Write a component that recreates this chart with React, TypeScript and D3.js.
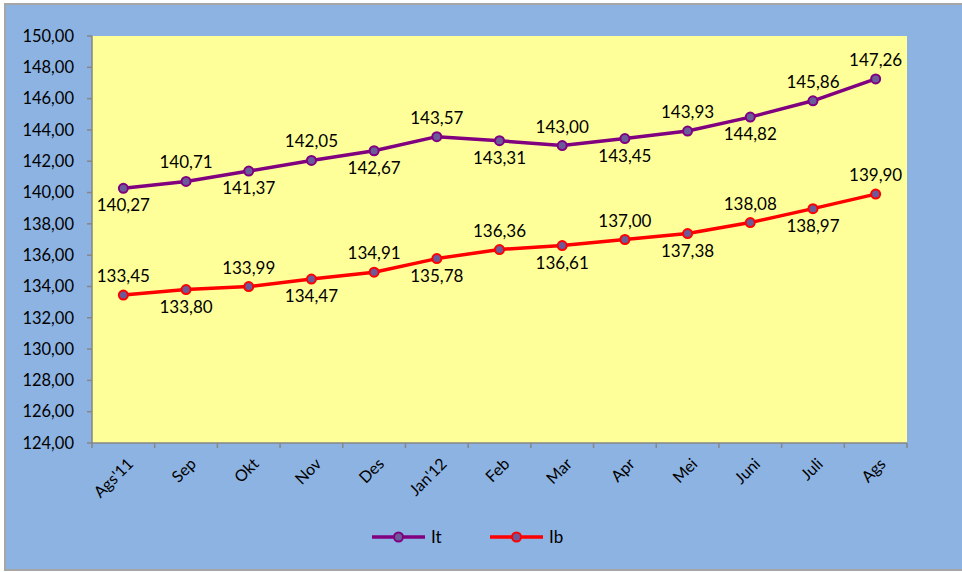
import React from "react";
import * as d3 from "d3";

const categories = ["Ags'11", "Sep", "Okt", "Nov", "Des", "Jan'12", "Feb", "Mar", "Apr", "Mei", "Juni", "Juli", "Ags"];
const itValues = [140.27, 140.71, 141.37, 142.05, 142.67, 143.57, 143.31, 143.0, 143.45, 143.93, 144.82, 145.86, 147.26];
const ibValues = [133.45, 133.8, 133.99, 134.47, 134.91, 135.78, 136.36, 136.61, 137.0, 137.38, 138.08, 138.97, 139.9];
const itLabelPos = ["b", "a", "b", "a", "b", "a", "b", "a", "b", "a", "b", "a", "a"];
const ibLabelPos = ["a", "b", "a", "b", "a", "b", "a", "b", "a", "b", "a", "b", "a"];
const yTicks = [124, 126, 128, 130, 132, 134, 136, 138, 140, 142, 144, 146, 148, 150];

const W = 962, H = 572;
const plot = { left: 92, top: 36, right: 907, bottom: 443 };
const FONT = "Lato, 'Open Sans', sans-serif";
const fmt = (v: number) => v.toFixed(2).replace(".", ",");

export default function App() {
  const x = d3.scaleBand<string>().domain(categories).range([plot.left, plot.right]);
  const y = d3.scaleLinear().domain([124, 150]).range([plot.bottom, plot.top]);
  const cx = (c: string) => (x(c) as number) + x.bandwidth() / 2;
  const line = d3.line<number>().x((_, i) => cx(categories[i])).y((v) => y(v));

  const series = [
    { name: "It", values: itValues, pos: itLabelPos, color: "#800080", fill: "#6A5A9A" },
    { name: "Ib", values: ibValues, pos: ibLabelPos, color: "#FF0000", fill: "#6A5A9A" },
  ];

  const boundaries = categories.map((c) => x(c) as number).concat([plot.right]);

  return (
    <svg width={W} height={H} style={{ position: "absolute", left: 0, top: 0 }}>
      <rect x={0} y={0} width={W} height={H} fill="#ffffff" />
      <rect x={5} y={4} width={W + 10} height={H - 6} fill="#8DB3E2" stroke="#A6A6A6" strokeWidth={2} />
      <rect x={plot.left} y={plot.top} width={plot.right - plot.left} height={plot.bottom - plot.top} fill="#FFFF99" />
      {/* y axis */}
      <line x1={plot.left} x2={plot.left} y1={plot.top} y2={plot.bottom} stroke="#868686" strokeWidth={1.5} />
      {yTicks.map((t) => (
        <g key={t}>
          <line x1={plot.left - 5} x2={plot.left} y1={y(t)} y2={y(t)} stroke="#868686" strokeWidth={1.5} />
          <text x={plot.left - 18} y={y(t)} dy="0.35em" textAnchor="end" fontFamily={FONT} fontSize={16.5} fill="#000">
            {fmt(t)}
          </text>
        </g>
      ))}
      {/* x axis */}
      <line x1={plot.left} x2={plot.right} y1={plot.bottom} y2={plot.bottom} stroke="#868686" strokeWidth={1.5} />
      {boundaries.map((b, i) => (
        <line key={i} x1={b} x2={b} y1={plot.bottom} y2={plot.bottom + 5} stroke="#868686" strokeWidth={1.5} />
      ))}
      {categories.map((c) => (
        <text
          key={c}
          transform={`translate(${cx(c) + 7},${plot.bottom + 18}) rotate(-45)`}
          textAnchor="end"
          dy="0.35em"
          fontFamily={FONT}
          fontSize={16}
          fill="#000"
        >
          {c}
        </text>
      ))}
      {/* series */}
      {series.map((s) => (
        <g key={s.name}>
          <path d={line(s.values) as string} fill="none" stroke={s.color} strokeWidth={3.5} strokeLinejoin="round" />
          {s.values.map((v, i) => (
            <circle key={i} cx={cx(categories[i])} cy={y(v)} r={4.5} fill={s.fill} stroke={s.color} strokeWidth={2} />
          ))}
          {s.values.map((v, i) => (
            <text
              key={"l" + i}
              x={cx(categories[i])}
              y={s.pos[i] === "a" ? y(v) - 13 : y(v) + 23}
              textAnchor="middle"
              fontFamily={FONT}
              fontSize={17}
              fill="#000"
            >
              {fmt(v)}
            </text>
          ))}
        </g>
      ))}
      {/* legend */}
      {series.map((s, i) => {
        const lx = i === 0 ? 372 : 490;
        const ly = 537;
        return (
          <g key={"leg" + s.name}>
            <line x1={lx} x2={lx + 53} y1={ly} y2={ly} stroke={s.color} strokeWidth={3.5} />
            <circle cx={lx + 26.5} cy={ly} r={4.5} fill={s.fill} stroke={s.color} strokeWidth={2} />
            <text x={lx + 59} y={ly} dy="0.35em" fontFamily={FONT} fontSize={17} fill="#000">
              {s.name}
            </text>
          </g>
        );
      })}
    </svg>
  );
}
